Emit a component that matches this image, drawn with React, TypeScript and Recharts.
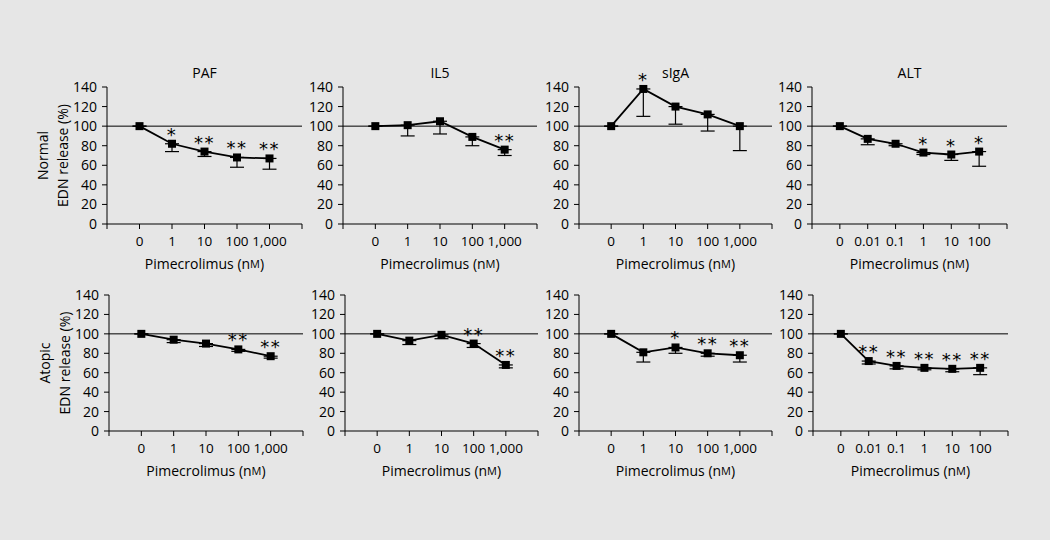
import { ErrorBar, LabelList, Line, LineChart, ReferenceLine, XAxis, YAxis } from "recharts";

const doses = ["0", "1", "10", "100", "1,000"];
const altDoses = ["0", "0.01", "0.1", "1", "10", "100"];
const yTicks = [0, 20, 40, 60, 80, 100, 120, 140];

// Normal donors
const pafNormal = [100, 82, 74, 68, 67];
const pafNormalErr = [0, 8, 5, 10, 11];
const pafNormalSig = ["", "*", "**", "**", "**"];

const il5Normal = [100, 101, 105, 89, 76];
const il5NormalErr = [0, 11, 13, 9, 6];
const il5NormalSig = ["", "", "", "", "**"];

const sigaNormal = [100, 138, 120, 112, 100];
const sigaNormalErr = [0, 28, 18, 17, 25];
const sigaNormalSig = ["", "*", "", "", ""];

const altNormal = [100, 87, 82, 73, 71, 74];
const altNormalErr = [0, 6, 2, 2, 6, 15];
const altNormalSig = ["", "", "", "*", "*", "*"];

// Atopic donors
const pafAtopic = [100, 94, 90, 84, 77];
const pafAtopicErr = [0, 3, 3, 2, 2];
const pafAtopicSig = ["", "", "", "**", "**"];

const il5Atopic = [100, 93, 99, 90, 68];
const il5AtopicErr = [0, 4, 4, 4, 3];
const il5AtopicSig = ["", "", "", "**", "**"];

const sigaAtopic = [100, 81, 86, 80, 78];
const sigaAtopicErr = [0, 10, 6, 3, 7];
const sigaAtopicSig = ["", "", "*", "**", "**"];

const altAtopic = [100, 72, 67, 65, 64, 65];
const altAtopicErr = [0, 3, 3, 2, 3, 7];
const altAtopicSig = ["", "**", "**", "**", "**", "**"];

const FONT = "'Open Sans', 'DejaVu Sans', sans-serif";
const ML = 90;
const MT = 25;
const MR = 10;
const XH = 50;

type PanelDef = {
  title: string;
  rowLabel: string;
  labels: string[];
  values: number[];
  errs: number[];
  sigs: string[];
  x: number;
  y: number;
  w: number;
  h: number;
};

const panels: PanelDef[] = [
  { title: "PAF", rowLabel: "Normal", labels: doses, values: pafNormal, errs: pafNormalErr, sigs: pafNormalSig, x: 107, y: 87, w: 195, h: 137 },
  { title: "IL5", rowLabel: "", labels: doses, values: il5Normal, errs: il5NormalErr, sigs: il5NormalSig, x: 343, y: 87, w: 194, h: 137 },
  { title: "sIgA", rowLabel: "", labels: doses, values: sigaNormal, errs: sigaNormalErr, sigs: sigaNormalSig, x: 579, y: 87, w: 193, h: 137 },
  { title: "ALT", rowLabel: "", labels: altDoses, values: altNormal, errs: altNormalErr, sigs: altNormalSig, x: 812, y: 87, w: 195, h: 137 },
  { title: "", rowLabel: "Atopic", labels: doses, values: pafAtopic, errs: pafAtopicErr, sigs: pafAtopicSig, x: 109, y: 295, w: 194, h: 136 },
  { title: "", rowLabel: "", labels: doses, values: il5Atopic, errs: il5AtopicErr, sigs: il5AtopicSig, x: 345, y: 295, w: 193, h: 136 },
  { title: "", rowLabel: "", labels: doses, values: sigaAtopic, errs: sigaAtopicErr, sigs: sigaAtopicSig, x: 579, y: 295, w: 193, h: 136 },
  { title: "", rowLabel: "", labels: altDoses, values: altAtopic, errs: altAtopicErr, sigs: altAtopicSig, x: 813, y: 295, w: 195, h: 136 },
];

function Square(props: any) {
  const { cx, cy, index } = props;
  if (cx == null || cy == null) return <g key={index} />;
  return <rect key={index} x={cx - 4} y={cy - 4} width={8} height={8} fill="#000" />;
}

function Stars(props: any) {
  const value = props.value;
  if (!value) return null;
  const x = props.viewBox?.x ?? props.x;
  const y = props.viewBox?.y ?? props.y;
  return (
    <text x={x} y={y - 3} textAnchor="middle" fontSize={18} fontFamily="'DejaVu Sans', sans-serif" letterSpacing={1.5} fill="#000">
      {value}
    </text>
  );
}

function Panel({ p }: { p: PanelDef }) {
  const n = p.labels.length;
  const data = p.values.map((v, i) => ({ x: i + 1, v, err: [p.errs[i], 0], sig: p.sigs[i] }));
  const xTicks = Array.from({ length: n + 2 }, (_, i) => i);

  const yLabel = (lp: any) => {
    const vb = lp.viewBox || {};
    const left = vb.x + vb.width;
    const midY = vb.y + vb.height / 2;
    return (
      <g>
        {p.title && (
          <text x={left + p.w / 2} y={vb.y - 15} textAnchor="middle" dominantBaseline="central" fontSize={14} fontFamily={FONT} fill="#000">
            {p.title}
          </text>
        )}
        {p.rowLabel && (
          <>
            <text x={left - 65} y={midY} textAnchor="middle" dominantBaseline="central" fontSize={14} fontFamily={FONT} fill="#000" transform={`rotate(-90 ${left - 65} ${midY})`}>
              {p.rowLabel}
            </text>
            <text x={left - 45} y={midY} textAnchor="middle" dominantBaseline="central" fontSize={14} fontFamily={FONT} fill="#000" transform={`rotate(-90 ${left - 45} ${midY})`}>
              EDN release (%)
            </text>
          </>
        )}
      </g>
    );
  };

  const xLabel = (lp: any) => {
    const vb = lp.viewBox || {};
    return (
      <text x={vb.x + vb.width / 2} y={vb.y + 39} textAnchor="middle" dominantBaseline="central" fontSize={14} fontFamily={FONT} fill="#000">
        Pimecrolimus (n<tspan fontSize={11}>M</tspan>)
      </text>
    );
  };

  return (
    <div style={{ position: "absolute", left: p.x - ML, top: p.y - MT }}>
      <LineChart
        width={ML + p.w + MR}
        height={MT + p.h + XH}
        data={data}
        margin={{ top: MT, right: MR, left: ML - 40, bottom: 0 }}
      >
        <XAxis
          dataKey="x"
          type="number"
          domain={[0, n + 1]}
          ticks={xTicks}
          interval={0}
          tickFormatter={(t: number) => p.labels[t - 1] ?? ""}
          height={XH}
          stroke="#000"
          tickSize={5}
          tickMargin={7}
          tick={{ fill: "#000", fontSize: 13.5, fontFamily: FONT }}
          label={xLabel}
        />
        <YAxis
          domain={[0, 140]}
          ticks={yTicks}
          interval={0}
          width={40}
          stroke="#000"
          tickSize={5}
          tickMargin={5}
          tick={{ fill: "#000", fontSize: 14, fontFamily: FONT }}
          label={yLabel}
        />
        <ReferenceLine y={100} stroke="#000" strokeWidth={1} />
        <Line dataKey="v" stroke="#000" strokeWidth={1.8} dot={Square} activeDot={false} isAnimationActive={false}>
          <ErrorBar dataKey="err" direction="y" width={7} stroke="#000" strokeWidth={1.2} />
          <LabelList dataKey="sig" content={Stars} />
        </Line>
      </LineChart>
    </div>
  );
}

export default function App() {
  return (
    <div style={{ position: "absolute", left: 0, top: 0, width: 1050, height: 540, background: "#e6e6e6", overflow: "hidden" }}>
      {panels.map((p, i) => (
        <Panel key={i} p={p} />
      ))}
    </div>
  );
}
